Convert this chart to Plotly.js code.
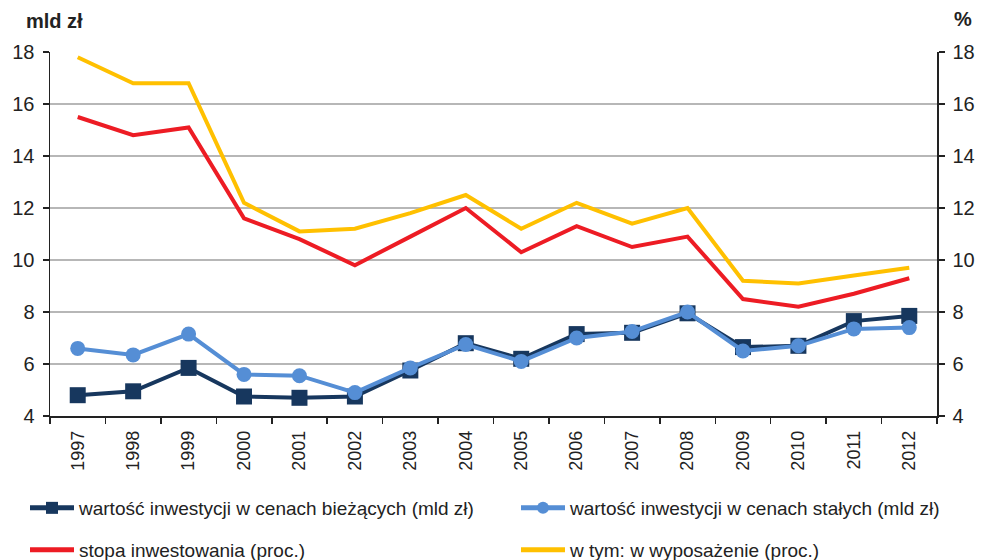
<!DOCTYPE html>
<html>
<head>
<meta charset="utf-8">
<script src="https://cdn.plot.ly/plotly-3.0.1.min.js"></script>
<style>html,body{margin:0;padding:0;background:#fff;}#chart{width:981px;height:560px;}</style>
</head>
<body>
<div id="chart"></div>
<script>
const years = ['1997','1998','1999','2000','2001','2002','2003','2004','2005','2006','2007','2008','2009','2010','2011','2012'];
const biezace = [4.8, 4.95, 5.85, 4.75, 4.7, 4.75, 5.75, 6.8, 6.2, 7.15, 7.2, 7.95, 6.65, 6.7, 7.65, 7.85];
const stale = [6.6, 6.35, 7.15, 5.6, 5.55, 4.9, 5.85, 6.75, 6.1, 7.0, 7.25, 8.0, 6.5, 6.7, 7.35, 7.4];
const stopa = [15.5, 14.8, 15.1, 11.6, 10.8, 9.8, 10.9, 12.0, 10.3, 11.3, 10.5, 10.9, 8.5, 8.2, 8.7, 9.3];
const wyposazenie = [17.8, 16.8, 16.8, 12.2, 11.1, 11.2, 11.8, 12.5, 11.2, 12.2, 11.4, 12.0, 9.2, 9.1, 9.4, 9.7];
const yTicks = [4, 6, 8, 10, 12, 14, 16, 18];

const FONT = 'Liberation Sans, Arial, sans-serif';
const W = 981, H = 560;

const data = [
  {x: years, y: stopa, name: 'stopa inwestowania (proc.)', type: 'scatter', mode: 'lines',
   line: {color: '#ed1c24', width: 4}, yaxis: 'y2', legend: 'legend3'},
  {x: years, y: wyposazenie, name: 'w tym: w wyposażenie (proc.)', type: 'scatter', mode: 'lines',
   line: {color: '#ffc000', width: 4}, yaxis: 'y2', legend: 'legend4'},
  {x: years, y: biezace, name: 'wartość inwestycji w cenach bieżących (mld zł)', type: 'scatter', mode: 'lines+markers',
   line: {color: '#17375e', width: 4}, marker: {symbol: 'square', size: 16, color: '#17375e'}, legend: 'legend'},
  {x: years, y: stale, name: 'wartość inwestycji w cenach stałych (mld zł)', type: 'scatter', mode: 'lines+markers',
   line: {color: '#558ed5', width: 4}, marker: {symbol: 'circle', size: 15, color: '#558ed5'}, legend: 'legend2'}
];

const legendCommon = {
  orientation: 'h', xref: 'container', yref: 'container', xanchor: 'left', yanchor: 'middle',
  font: {family: FONT, size: 19, color: '#222'}, itemwidth: 44, itemsizing: 'constant',
  bgcolor: 'rgba(0,0,0,0)', borderwidth: 0
};

const layout = {
  width: W, height: H,
  margin: {l: 50, r: 44, t: 52, b: 144},
  paper_bgcolor: '#fff', plot_bgcolor: '#fff',
  font: {family: FONT, size: 19, color: '#222'},
  showlegend: true,
  xaxis: {
    type: 'category', range: [-0.5, 15.5], tickson: 'boundaries', ticks: 'outside', ticklen: 6, tickwidth: 1.5, tickcolor: '#222',
    showline: true, linecolor: '#222', linewidth: 1.5, showgrid: false, tickangle: -90,
    tickfont: {family: FONT, size: 18, color: '#222'}, ticklabelstandoff: 6, fixedrange: true
  },
  yaxis: {
    range: [4, 18], tickvals: yTicks, ticktext: yTicks.map(String), ticks: 'outside', ticklen: 6, tickwidth: 1.5, tickcolor: '#222',
    showline: true, linecolor: '#222', linewidth: 1.5, showgrid: true, gridcolor: '#b7b7b7', gridwidth: 1.5,
    zeroline: false, tickfont: {family: FONT, size: 20, color: '#222'}, ticklabelstandoff: 4
  },
  yaxis2: {
    range: [4, 18], tickvals: yTicks, ticktext: yTicks.map(String), overlaying: 'y', side: 'right', ticks: 'outside', ticklen: 6,
    tickwidth: 1.5, tickcolor: '#222', showline: true, linecolor: '#222', linewidth: 1.5, showgrid: false, zeroline: false,
    tickfont: {family: FONT, size: 20, color: '#222'}, ticklabelstandoff: 4
  },
  legend: Object.assign({}, legendCommon, {x: 25 / W, y: 52 / H}),
  legend2: Object.assign({}, legendCommon, {x: 516 / W, y: 52 / H}),
  legend3: Object.assign({}, legendCommon, {x: 25 / W, y: 10 / H}),
  legend4: Object.assign({}, legendCommon, {x: 516 / W, y: 10 / H}),
  annotations: [
    {text: '<b>mld zł</b>', xref: 'paper', yref: 'paper', x: 0, y: 1, xshift: -26, yshift: 31, xanchor: 'left', yanchor: 'middle',
     showarrow: false, font: {family: FONT, size: 20, color: '#222'}},
    {text: '<b>%</b>', xref: 'paper', yref: 'paper', x: 1, y: 1, xshift: 15, yshift: 33, xanchor: 'left', yanchor: 'middle',
     showarrow: false, font: {family: FONT, size: 20, color: '#222'}}
  ]
};

Plotly.newPlot('chart', data, layout, {displayModeBar: false, staticPlot: true});
</script>
</body>
</html>
